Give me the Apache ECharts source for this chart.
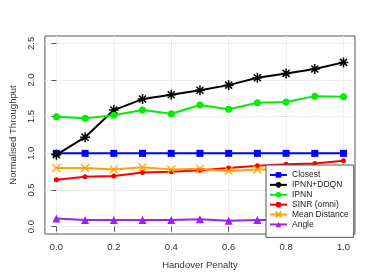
<!DOCTYPE html>
<html><head><meta charset="utf-8">
<script src="https://cdn.jsdelivr.net/npm/echarts@6/dist/echarts.min.js"></script>
<style>html,body{margin:0;padding:0;background:#fff}#c{width:374px;height:280px}</style>
</head><body><div id="c"></div>
<script>
const penalties = [0.0, 0.1, 0.2, 0.3, 0.4, 0.5, 0.6, 0.7, 0.8, 0.9, 1.0];
const closest = [1.0, 1.0, 1.0, 1.0, 1.0, 1.0, 1.0, 1.0, 1.0, 1.0, 1.0];
const ipnnDdqn = [0.98, 1.22, 1.59, 1.74, 1.80, 1.86, 1.93, 2.03, 2.09, 2.15, 2.24];
const ipnn = [1.50, 1.48, 1.52, 1.59, 1.54, 1.66, 1.60, 1.69, 1.70, 1.78, 1.77];
const sinrOmni = [0.64, 0.68, 0.69, 0.74, 0.75, 0.77, 0.80, 0.83, 0.85, 0.86, 0.90];
const meanDistance = [0.80, 0.80, 0.78, 0.81, 0.78, 0.79, 0.76, 0.78, 0.78, 0.78, 0.78];
const angle = [0.11, 0.09, 0.09, 0.09, 0.09, 0.10, 0.08, 0.09, 0.09, 0.09, 0.09];
const xTicks = [0.0, 0.2, 0.4, 0.6, 0.8, 1.0];
const yTicks = [0.0, 0.5, 1.0, 1.5, 2.0, 2.5];

const asterisk = 'path://M0 5L10 5M5 0L5 10M1.5 1.5L8.5 8.5M8.5 1.5L1.5 8.5';
const cross = 'path://M0 0L10 10M10 0L0 10';
const pair = a => penalties.map((x, i) => [x, a[i]]);
const font = 'Liberation Sans, Arial, sans-serif';

function mk(name, data, color, symbol, size, extra) {
  return Object.assign({
    name, type: 'line', data: pair(data), symbol, symbolSize: size,
    lineStyle: {color, width: 2}, itemStyle: {color}, animation: false
  }, extra || {});
}

const chart = echarts.init(document.getElementById('c'));
chart.setOption({
  animation: false,
  grid: {left: 37, right: 19, top: 36, bottom: 46, show: true, borderColor: '#555', borderWidth: 1, backgroundColor: 'transparent'},
  xAxis: {
    type: 'value', min: -0.04, max: 1.04,
    name: 'Handover Penalty', nameLocation: 'middle', nameGap: 26,
    nameTextStyle: {fontFamily: font, fontSize: 9.5, color: '#333'},
    axisLine: {show: false},
    axisTick: {show: true, inside: false, length: 5, customValues: xTicks, lineStyle: {color: '#555'}},
    axisLabel: {customValues: xTicks, formatter: v => v.toFixed(1), fontFamily: font, fontSize: 9.5, color: '#333', margin: 8},
    splitLine: {show: true, lineStyle: {color: '#ddd', type: 'dotted'}}
  },
  yAxis: {
    type: 'value', min: -0.1, max: 2.6,
    name: 'Normalised Throughput', nameLocation: 'middle', nameGap: 25,
    nameTextStyle: {fontFamily: font, fontSize: 9.5, color: '#333'},
    axisLine: {show: false},
    axisTick: {show: true, inside: false, length: 5, customValues: yTicks, lineStyle: {color: '#555'}},
    axisLabel: {customValues: yTicks, rotate: 90, formatter: v => v.toFixed(1), fontFamily: font, fontSize: 9.5, color: '#333', margin: 9},
    splitLine: {show: true, lineStyle: {color: '#ddd', type: 'dotted'}}
  },
  legend: {
    orient: 'vertical', left: 266, top: 165,
    padding: [5, 5, 8, 3], itemGap: 0, itemWidth: 17, itemHeight: 7,
    backgroundColor: '#fff', borderColor: '#555', borderWidth: 1, borderRadius: 0,
    textStyle: {fontFamily: font, fontSize: 8.5, lineHeight: 9.9, color: '#222'},
    data: ['Closest', 'IPNN+DDQN', 'IPNN', 'SINR (omni)', 'Mean Distance', 'Angle']
  },
  series: [
    mk('Closest', closest, '#0000ff', 'rect', 7),
    mk('IPNN+DDQN', ipnnDdqn, '#000000', asterisk, 10, {itemStyle: {color: '#000', borderColor: '#000', borderWidth: 1.5}}),
    mk('IPNN', ipnn, '#00ee00', 'circle', 7),
    mk('SINR (omni)', sinrOmni, '#ff0000', 'circle', 5),
    mk('Mean Distance', meanDistance, '#ffa500', cross, 8, {itemStyle: {color: '#ffa500', borderColor: '#ffa500', borderWidth: 1.2}}),
    mk('Angle', angle, '#a020f0', 'triangle', 8)
  ]
});
</script></body></html>
